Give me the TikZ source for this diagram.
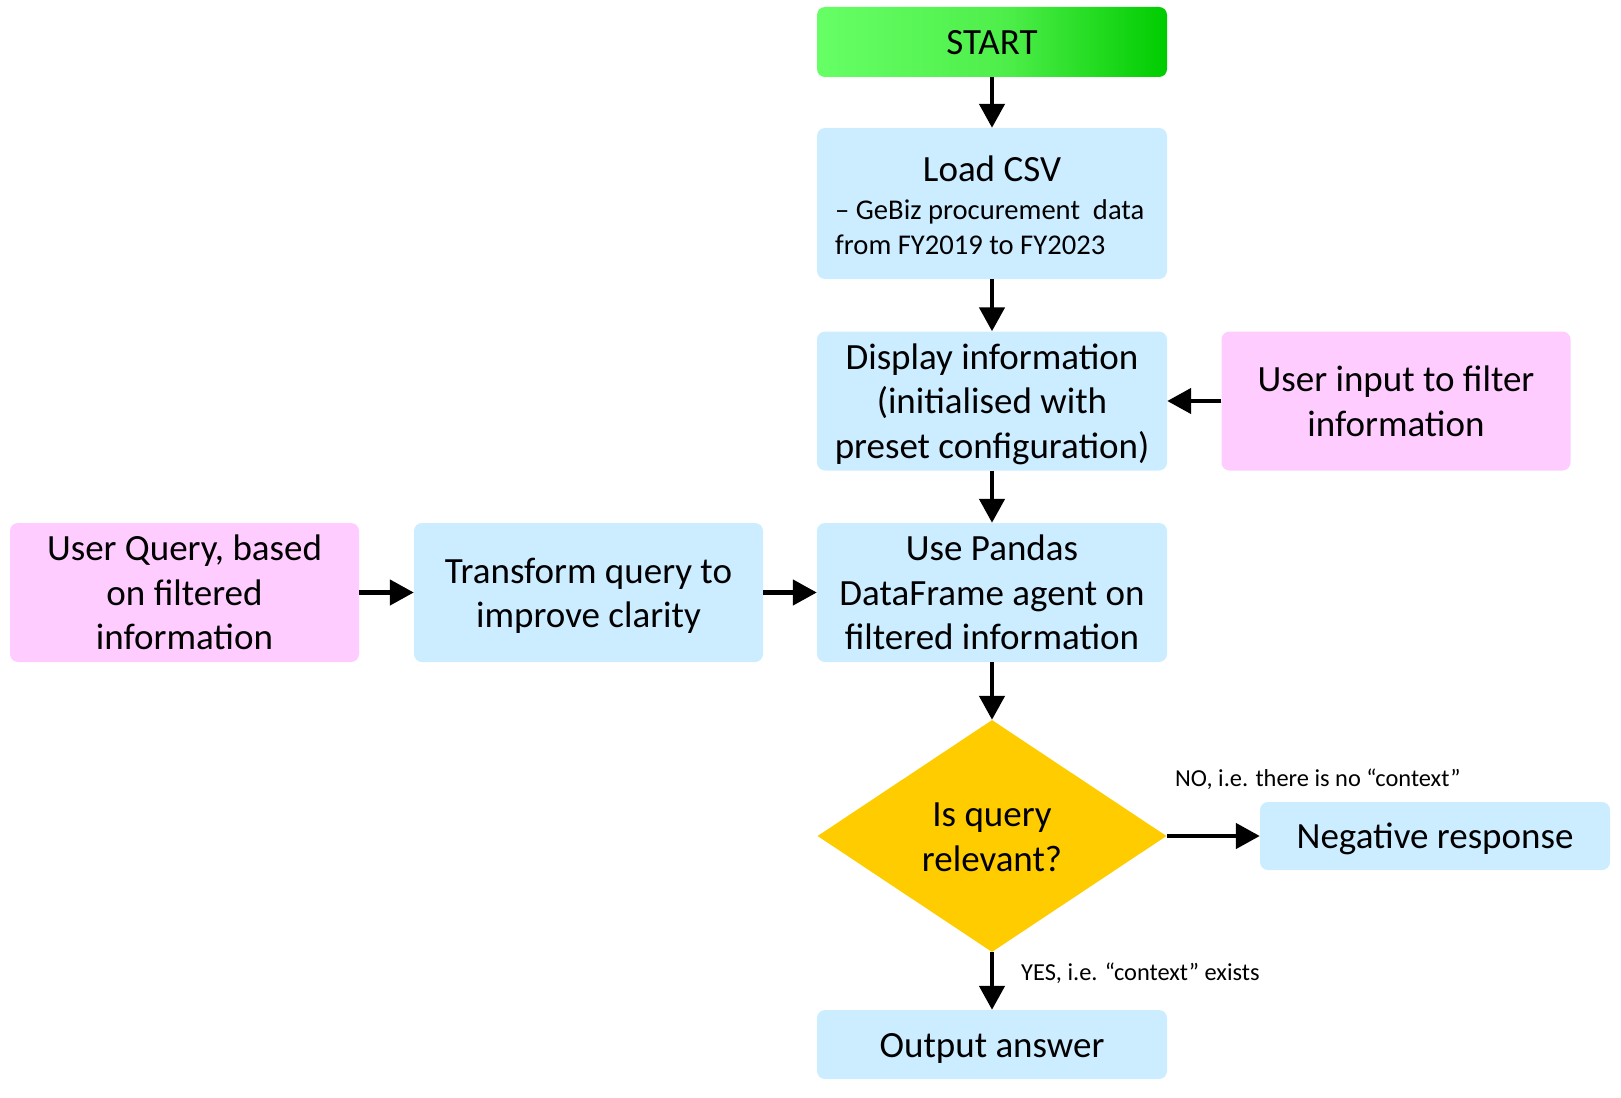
\documentclass[tikz,border=0pt]{standalone}
\usepackage{fontspec}
\setmainfont{Carlito}
\usetikzlibrary{arrows.meta,shapes.geometric}
\definecolor{boxblue}{RGB}{204,236,255}
\definecolor{boxpink}{RGB}{255,204,255}
\definecolor{decgold}{RGB}{255,204,0}
\definecolor{gstart}{RGB}{102,255,102}
\definecolor{gmid}{RGB}{78,238,74}
\definecolor{gend}{RGB}{0,204,0}
\pgfdeclarehorizontalshading{startshade}{100bp}{color(0bp)=(gstart); color(25bp)=(gstart); color(52bp)=(gmid); color(75bp)=(gend); color(100bp)=(gend)}
\newcommand\lnst{\rule[-9.5pt]{0pt}{44.5pt}}
\begin{document}
\begin{tikzpicture}[x=1pt,y=-1pt,
  base/.style={rounded corners=8pt, inner sep=0pt, align=center, text=black,
    font=\fontsize{37}{44.5}\selectfont},
  bluebox/.style={base, fill=boxblue, minimum width=350pt, minimum height=139pt},
  pinkbox/.style={base, fill=boxpink, minimum width=349pt, minimum height=139pt},
  lowbox/.style={base, fill=boxblue, minimum width=350pt, minimum height=69pt},
  lbl/.style={inner sep=0pt, anchor=west, text=black, font=\fontsize{24.4}{29}\selectfont},
  arr/.style={line width=4.6pt, -{Triangle[width=25pt,length=24pt]}},
]
\useasboundingbox (0,0) rectangle (1621,1097);

\node[base, shading=startshade, minimum width=350pt, minimum height=70pt] (start) at (992,42) {\lnst START};
\node[base, fill=boxblue, minimum width=350pt, minimum height=151pt] (load) at (992,203.5) {};
\node[inner sep=0pt, font=\fontsize{37}{44.5}\selectfont] (loadtitle) at (992,169) {Load CSV};
\node[inner sep=0pt, anchor=west, align=left, font=\fontsize{28.6}{35}\selectfont] (loadsub) at (835,227) {– GeBiz procurement~ data\\from FY2019 to FY2023};

\node[bluebox] (disp) at (992,401) {\lnst Display information\\(initialised with\\preset configuration)\lnst};
\node[pinkbox] (uin) at (1396,401) {\lnst User input to filter\\information\lnst};
\node[bluebox] (pandas) at (992,592.5) {\lnst Use Pandas\\DataFrame agent on\\filtered information\lnst};
\node[pinkbox] (uq) at (184.5,592.5) {\lnst User Query, based\\on filtered\\information\lnst};
\node[pinkbox, fill=boxblue] (tr) at (588.5,592.5) {\lnst Transform query to\\improve clarity\lnst};
\node[diamond, shape aspect=1.5, fill=decgold, inner sep=0pt, minimum width=349pt, minimum height=232pt, align=center, font=\fontsize{37}{44.5}\selectfont] (dec) at (992,836) {\lnst Is query\\relevant?\lnst};
\node[lowbox, minimum height=68pt] (neg) at (1435,836) {\lnst Negative response};
\node[lowbox] (out) at (992,1044.5) {\lnst Output answer};

\node[lbl] (nolbl) at (1175,779) {NO, i.e. there is no “context”};
\node[lbl] (yeslbl) at (1021,973) {YES, i.e. “context” exists};

\draw[arr] (start) -- (load);
\draw[arr] (load) -- (disp);
\draw[arr] (uin) -- (disp);
\draw[arr] (disp) -- (pandas);
\draw[arr] (uq) -- (tr);
\draw[arr] (tr) -- (pandas);
\draw[arr] (pandas) -- (dec);
\draw[arr] (dec) -- (neg);
\draw[arr] (dec) -- (out);
\end{tikzpicture}
\end{document}
